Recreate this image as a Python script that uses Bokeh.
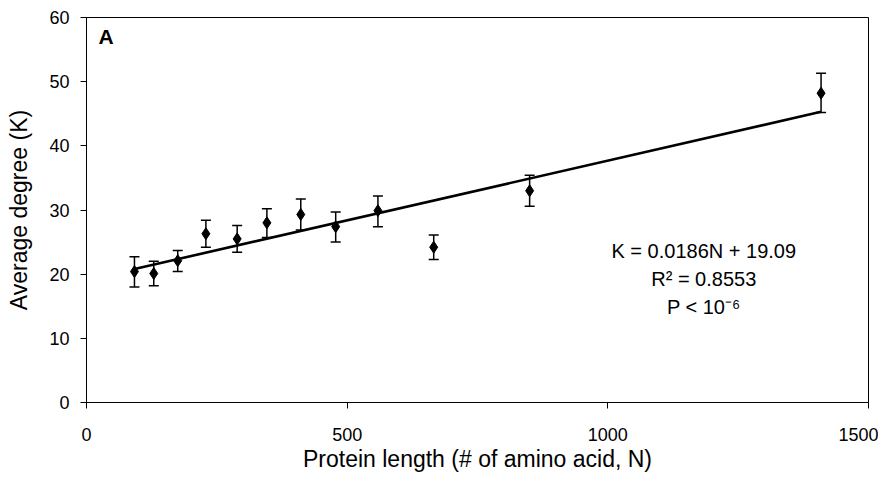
from bokeh.plotting import figure
from bokeh.models import ColumnDataSource, Whisker, TeeHead, Range1d, Label, FixedTicker
from bokeh.embed import file_html
from bokeh.resources import INLINE

# Data
protein_length = [92, 129, 175, 229, 289, 346, 411, 478, 559, 666, 850, 1409]
avg_degree = [20.4, 20.1, 22.1, 26.3, 25.5, 28.0, 29.3, 27.4, 29.9, 24.2, 33.0, 48.2]
err_upper = [22.7, 22.0, 23.7, 28.4, 27.6, 30.2, 31.7, 29.7, 32.2, 26.1, 35.4, 51.3]
err_lower = [18.0, 18.2, 20.4, 24.2, 23.4, 25.7, 26.9, 25.0, 27.4, 22.3, 30.6, 45.2]
fit_slope = 0.0186
fit_intercept = 19.09
x_ticks = [0, 500, 1000, 1500]
y_ticks = [0, 10, 20, 30, 40, 50, 60]

FONT = "Liberation Sans"

p = figure(width=878, height=474, output_backend="svg", toolbar_location=None,
           x_range=Range1d(0, 1500), y_range=Range1d(0, 60))
p.min_border_left = 86
p.min_border_right = 10
p.min_border_top = 17
p.min_border_bottom = 70
p.background_fill_color = "white"
p.border_fill_color = "white"
p.outline_line_color = "black"
p.outline_line_width = 1
p.xgrid.visible = False
p.ygrid.visible = False

for ax in (p.xaxis[0], p.yaxis[0]):
    ax.axis_line_color = "black"
    ax.axis_line_width = 1
    ax.major_tick_line_color = "black"
    ax.major_tick_in = 0
    ax.major_tick_out = 6
    ax.minor_tick_line_color = None
    ax.major_label_text_font = FONT
    ax.major_label_text_font_size = "18px"
    ax.major_label_text_color = "black"
    ax.axis_label_text_font = FONT
    ax.axis_label_text_font_size = "23px"
    ax.axis_label_text_font_style = "normal"
    ax.axis_label_text_color = "black"

p.xaxis.ticker = FixedTicker(ticks=x_ticks)
p.yaxis.ticker = FixedTicker(ticks=y_ticks)
p.xaxis.axis_label = "Protein length (# of amino acid, N)"
p.yaxis.axis_label = "Average degree (K)"
p.xaxis.major_label_standoff = 19
p.yaxis.major_label_standoff = 11
p.xaxis.axis_label_standoff = 2
p.yaxis.axis_label_standoff = 14

src = ColumnDataSource(dict(x=protein_length, y=avg_degree, lo=err_lower, hi=err_upper))

# trend line
xmin, xmax = min(protein_length), max(protein_length)
fit_x = [xmin, xmax]
fit_y = [fit_slope * v + fit_intercept for v in fit_x]
p.line(fit_x, fit_y, line_color="black", line_width=2.6)

whisker = Whisker(source=src, base="x", upper="hi", lower="lo",
                  line_color="black", line_width=1.5,
                  upper_head=TeeHead(size=10, line_color="black", line_width=1.5),
                  lower_head=TeeHead(size=10, line_color="black", line_width=1.5))
p.add_layout(whisker)

p.scatter("x", "y", source=src, marker="diamond", size=12,
          fill_color="black", line_color="black")

# annotations
p.add_layout(Label(x=23, y=55.3, text="A", text_font=FONT, text_font_size="21px",
                   text_font_style="bold", text_color="black"))
ann_x = 1184
for yy, txt in [(23.6, "K = 0.0186N + 19.09"), (19.2, "R² = 0.8553"), (14.9, "P < 10⁻⁶")]:
    p.add_layout(Label(x=ann_x, y=yy, text=txt, text_font=FONT, text_font_size="20px",
                       text_align="center", text_baseline="middle", text_color="black"))

open("out.html", "w").write(file_html(p, INLINE))
